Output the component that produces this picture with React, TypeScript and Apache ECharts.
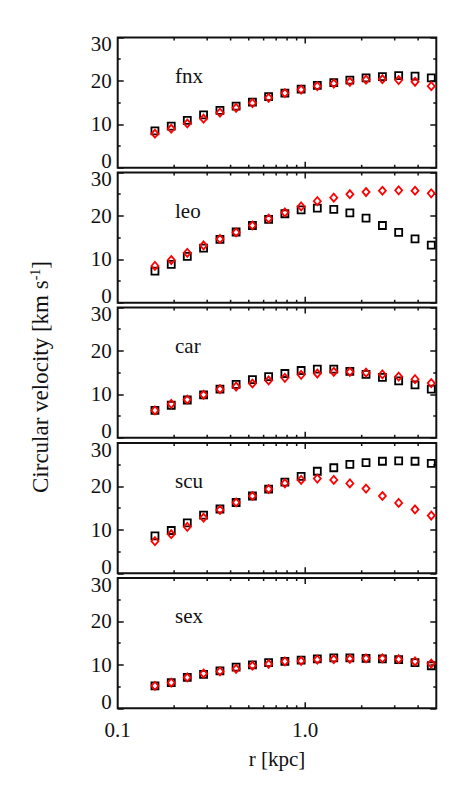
import React, { useEffect, useRef } from "react";
import * as echarts from "echarts";

// ---- data ----
const radii = [0.158, 0.193, 0.235, 0.287, 0.351, 0.428, 0.523, 0.638, 0.779, 0.951, 1.16, 1.42, 1.73, 2.11, 2.58, 3.15, 3.85, 4.7];

const galaxyNames = ["fnx", "leo", "car", "scu", "sex"];

const fnxTrue = [8.5, 9.6, 10.9, 12.2, 13.2, 14.2, 15.1, 16.4, 17.2, 18.1, 19.0, 19.6, 20.2, 20.7, 21.0, 21.2, 21.1, 20.7];
const fnxFit = [7.85, 9.0, 10.2, 11.3, 12.7, 13.8, 14.9, 16.1, 17.2, 18.0, 18.8, 19.4, 19.8, 20.3, 20.4, 20.2, 19.8, 18.8];

const leoTrue = [7.3, 8.85, 10.7, 12.6, 14.6, 16.3, 17.8, 19.2, 20.5, 21.4, 21.8, 21.5, 20.7, 19.5, 17.8, 16.2, 14.7, 13.3];
const leoFit = [8.5, 9.85, 11.5, 13.2, 14.7, 16.2, 17.8, 19.4, 20.8, 22.2, 23.4, 24.2, 25.0, 25.5, 25.8, 25.9, 25.8, 25.2];

const carTrue = [6.3, 7.5, 8.7, 9.9, 11.2, 12.3, 13.4, 14.1, 14.8, 15.5, 15.8, 15.8, 15.3, 14.6, 13.9, 13.1, 12.2, 11.2];
const carFit = [6.3, 7.8, 8.8, 9.9, 11.2, 11.8, 12.5, 13.2, 13.8, 14.5, 14.8, 15.2, 15.2, 15.0, 14.6, 14.1, 13.5, 12.6];

const scuTrue = [8.6, 9.85, 11.6, 13.4, 14.8, 16.3, 17.8, 19.4, 21.0, 22.3, 23.5, 24.3, 25.1, 25.5, 25.8, 25.9, 25.8, 25.3];
const scuFit = [7.4, 9.0, 10.7, 12.8, 14.6, 16.3, 17.8, 19.4, 20.7, 21.5, 21.8, 21.5, 20.7, 19.5, 17.8, 16.2, 14.7, 13.3];

const sexTrue = [5.15, 5.9, 7.1, 7.8, 8.6, 9.5, 10.0, 10.5, 10.8, 11.1, 11.4, 11.6, 11.6, 11.5, 11.4, 11.2, 10.5, 9.8];
const sexFit = [5.15, 5.9, 7.1, 8.0, 8.5, 9.1, 9.8, 10.2, 10.8, 10.9, 11.2, 11.3, 11.4, 11.5, 11.5, 11.3, 10.8, 10.3];

const trueSeries = [fnxTrue, leoTrue, carTrue, scuTrue, sexTrue];
const fitSeries = [fnxFit, leoFit, carFit, scuFit, sexFit];

const xMin = 0.1;
const xMax = 5;
const yMin = 0;
const yMax = 30;
const yInterval = 10;
const majorTicksX = [1];
const minorTicksX = [0.2, 0.3, 0.4, 0.5, 0.6, 0.7, 0.8, 0.9, 2, 3, 4];
const xTickLabels: Record<string, string> = { "0.1": "0.1", "1": "1.0" };

const xAxisTitle = "r [kpc]";
const yAxisTitle = ["Circular velocity [km s", "-1", "]"];

// ---- layout ----
const W = 472;
const H = 786;
const GRID_LEFT = 117.7;
const GRID_RIGHT_EDGE = 436.3;
const GRID_TOPS = [37.5, 172.5, 307.5, 443, 578];
const GRID_H = 130.3;
const FONT = "Liberation Serif";
const INK = "#111";

export default function App() {
  const ref = useRef<HTMLDivElement>(null);
  useEffect(() => {
    if (!ref.current) return;
    const chart = echarts.init(ref.current, null, { renderer: "svg", width: W, height: H });

    const grids: any[] = [];
    const xAxes: any[] = [];
    const yAxes: any[] = [];
    const series: any[] = [];
    const graphics: any[] = [];

    const tickRender = (len: number) => (params: any, api: any) => {
      const v = api.value(0);
      const b = api.coord([v, yMin]);
      const t = api.coord([v, yMax]);
      const st = { stroke: INK, lineWidth: 1.5 };
      return {
        type: "group",
        children: [
          { type: "line", shape: { x1: b[0], y1: b[1], x2: b[0], y2: b[1] - len }, style: st },
          { type: "line", shape: { x1: t[0], y1: t[1], x2: t[0], y2: t[1] + len }, style: st },
        ],
      };
    };

    const labelFont = { fontFamily: FONT, fontSize: 21, color: INK };

    galaxyNames.forEach((name, i) => {
      const last = i === galaxyNames.length - 1;
      grids.push({
        left: GRID_LEFT,
        width: GRID_RIGHT_EDGE - GRID_LEFT,
        top: GRID_TOPS[i],
        height: GRID_H,
        show: true,
        borderColor: INK,
        borderWidth: 2,
        backgroundColor: "transparent",
      });
      xAxes.push({
        type: "log",
        logBase: 10,
        gridIndex: i,
        min: xMin,
        max: xMax,
        axisLine: { show: false },
        axisTick: { show: false },
        splitLine: { show: false },
        axisLabel: {
          show: last,
          margin: 11,
          showMaxLabel: false,
          ...labelFont,
          formatter: (v: number) => {
            const key = Math.abs(v - 1) < 1e-6 ? "1" : Math.abs(v - 0.1) < 1e-6 ? "0.1" : "";
            return xTickLabels[key] || "";
          },
        },
      });
      const yCommon = {
        type: "value",
        gridIndex: i,
        min: yMin,
        max: yMax,
        interval: yInterval,
        axisLine: { show: false },
        splitLine: { show: false },
        axisTick: { show: true, inside: true, length: 6, lineStyle: { color: INK, width: 1.5 } },
        minorTick: { show: true, splitNumber: 2, length: 3, lineStyle: { color: INK, width: 1.5 } },
      };
      yAxes.push({
        ...yCommon,
        position: "left",
        axisLabel: {
          show: true,
          margin: 6,
          ...labelFont,
          formatter: (v: number) =>
            v === yMin ? `{lo|${v}}` : v === yMax ? `{hi|${v}}` : `{n|${v}}`,
          rich: {
            lo: { ...labelFont, padding: [0, 0, 13, 0] },
            hi: { ...labelFont, padding: [13, 0, 0, 0] },
            n: { ...labelFont },
          },
        },
      });
      yAxes.push({
        ...yCommon,
        position: "right",
        axisLabel: { show: false },
      });
      series.push({
        type: "custom",
        xAxisIndex: i,
        yAxisIndex: 2 * i,
        clip: false,
        silent: true,
        renderItem: tickRender(3),
        data: minorTicksX.map((v) => [v, yMin]),
        z: 3,
      });
      series.push({
        type: "custom",
        xAxisIndex: i,
        yAxisIndex: 2 * i,
        clip: false,
        silent: true,
        renderItem: tickRender(6),
        data: majorTicksX.map((v) => [v, yMin]),
        z: 3,
      });
      series.push({
        type: "scatter",
        name: name + " true",
        xAxisIndex: i,
        yAxisIndex: 2 * i,
        symbol: "rect",
        symbolSize: 7,
        itemStyle: { color: "transparent", borderColor: "#000", borderWidth: 1.8, opacity: 1 },
        data: radii.map((r, k) => [r, trueSeries[i][k]]),
        z: 4,
      });
      series.push({
        type: "scatter",
        name: name + " fit",
        xAxisIndex: i,
        yAxisIndex: 2 * i,
        symbol: "diamond",
        symbolSize: [7, 8],
        itemStyle: { color: "transparent", borderColor: "#ff0000", borderWidth: 1.8, opacity: 1 },
        data: radii.map((r, k) => [r, fitSeries[i][k]]),
        z: 5,
      });
      graphics.push({
        type: "text",
        x: 175,
        y: GRID_TOPS[i] + 38,
        style: {
          text: name,
          fontFamily: FONT,
          fontSize: 21,
          fill: INK,
          align: "left",
          verticalAlign: "middle",
        },
      });
    });

    graphics.push({
      type: "text",
      x: 277,
      y: 759,
      style: {
        text: xAxisTitle,
        fontFamily: FONT,
        fontSize: 21,
        fill: INK,
        align: "center",
        verticalAlign: "middle",
      },
    });
    graphics.push({
      type: "text",
      x: 40,
      y: 377,
      rotation: Math.PI / 2,
      style: {
        text: `{a|${yAxisTitle[0]}}{b|${yAxisTitle[1]}}{a|${yAxisTitle[2]}}`,
        align: "center",
        verticalAlign: "middle",
        rich: {
          a: { fontFamily: FONT, fontSize: 23, fill: INK, color: INK },
          b: { fontFamily: FONT, fontSize: 14, fill: INK, color: INK, verticalAlign: "top", padding: [0, 0, 10, 0] },
        },
      },
    });

    chart.setOption({
      animation: false,
      backgroundColor: "#fff",
      grid: grids,
      xAxis: xAxes,
      yAxis: yAxes,
      series,
      graphic: graphics,
    });
    return () => chart.dispose();
  }, []);
  return <div ref={ref} style={{ position: "absolute", left: 0, top: 0, width: W, height: H }} />;
}
